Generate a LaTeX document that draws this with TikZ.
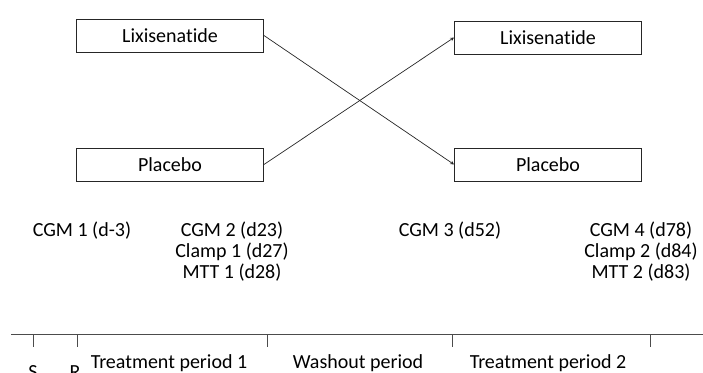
\documentclass[tikz,border=0pt]{standalone}
\usepackage{fontspec}
\setmainfont{Carlito}[Ligatures=CommonOff]
\begin{document}
\begin{tikzpicture}[>=stealth, x=1pt, y=-1pt,
    box/.style={draw=black!85, line width=0.9pt, minimum width=187pt, minimum height=33pt, inner sep=0pt, font=\fontsize{20}{21}\selectfont},
    lbl/.style={anchor=base, inner sep=0pt, align=center, font=\fontsize{20}{21}\selectfont}]
    \useasboundingbox (0,0) rectangle (703,372);

    \node (lixiA) [box] at (170,35.5) {Lixisenatide};
    \node (placA) [box] at (170,164.5) {Placebo};
    \node (lixiB) [box] at (548,37.5) {Lixisenatide};
    \node (placB) [box] at (548,164.5) {Placebo};

    \draw[->, black!85, line width=0.7pt] (lixiA.east) -- (placB.west);
    \draw[->, black!85, line width=0.7pt] (placA.east) -- (lixiB.west);

    % visits (base of a block is its last line)
    \node (cgm1) [lbl] at (82,236) {CGM 1 (d-3)};
    \node (visit2) [lbl] at (232,278) {CGM 2 (d23)\\Clamp 1 (d27)\\MTT 1 (d28)};
    \node (cgm3) [lbl] at (450,236) {CGM 3 (d52)};
    \node (visit4) [lbl] at (641,278) {CGM 4 (d78)\\Clamp 2 (d84)\\MTT 2 (d83)};

    % time line
    \coordinate (t0) at (11,334);
    \coordinate (t1) at (703,334);
    \draw[black!70, line width=0.9pt] (t0) -- (t1);
    \foreach \x/\name in {33/s, 77/r, 267/p1, 452/w, 650/p2}
        \draw[black!70, line width=0.9pt] (\x,334) -- (\x,347) coordinate (tick\name);

    \node (sLbl) [lbl] at (33,378) {S};
    \node (rLbl) [lbl] at (75,378) {R};
    \node (per1) [lbl] at (169,368) {Treatment period 1};
    \node (wash) [lbl] at (358,368) {Washout period};
    \node (per2) [lbl] at (548,368) {Treatment period 2};
\end{tikzpicture}
\end{document}
